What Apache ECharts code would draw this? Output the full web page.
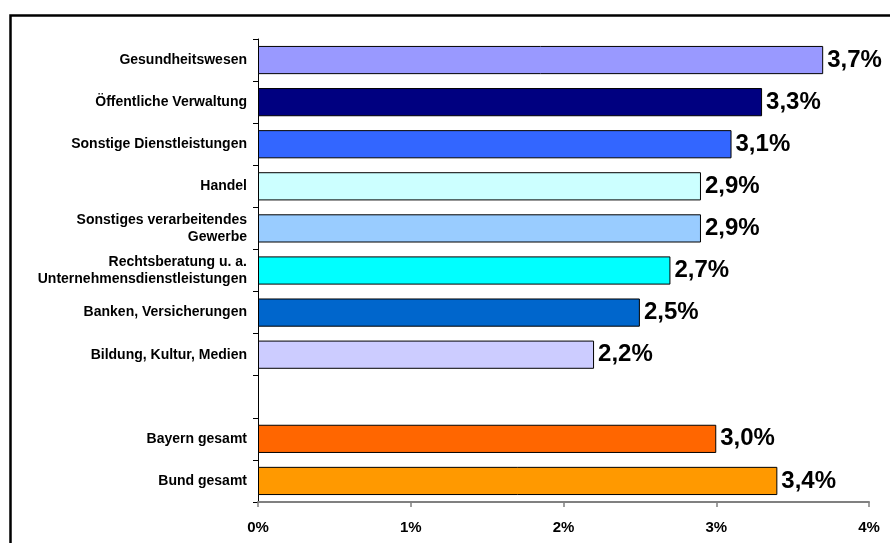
<!DOCTYPE html>
<html>
<head>
<meta charset="utf-8">
<script src="https://cdn.jsdelivr.net/npm/echarts@6/dist/echarts.min.js"></script>
<style>
  html, body { margin: 0; padding: 0; background: #fff; }
  #chart { width: 890px; height: 543px; }
</style>
</head>
<body>
<div id="chart"></div>
<script>
// Branchen, von oben nach unten (leerer Eintrag = Abstand)
const categories = [
  'Gesundheitswesen',
  'Öffentliche Verwaltung',
  'Sonstige Dienstleistungen',
  'Handel',
  'Sonstiges verarbeitendes\nGewerbe',
  'Rechtsberatung u. a.\nUnternehmensdienstleistungen',
  'Banken, Versicherungen',
  'Bildung, Kultur, Medien',
  '',
  'Bayern gesamt',
  'Bund gesamt'
];
const values = [3.7, 3.3, 3.1, 2.9, 2.9, 2.7, 2.5, 2.2, null, 3.0, 3.4];
const barColors = ['#9999FF', '#000080', '#3366FF', '#CCFFFF', '#99CCFF', '#00FFFF', '#0066CC', '#CCCCFF', '#ffffff', '#FF6600', '#FF9900'];
const xTicks = [0, 1, 2, 3, 4];

const font = 'Liberation Sans, Arial, sans-serif';

const chart = echarts.init(document.getElementById('chart'));
chart.setOption({
  animation: false,
  backgroundColor: '#fff',
  grid: { left: 258, right: 21, top: 39, bottom: 41, containLabel: false },
  graphic: [{
    type: 'rect',
    shape: { x: 10.5, y: 15.5, width: 1000, height: 1000 },
    style: { fill: 'none', stroke: '#000', lineWidth: 2.5 },
    silent: true
  }],
  xAxis: {
    type: 'value',
    min: xTicks[0],
    max: xTicks[xTicks.length - 1],
    interval: 1,
    splitLine: { show: false },
    axisLine: { show: true, lineStyle: { color: '#808080', width: 2 } },
    axisTick: { show: true, length: 5, lineStyle: { color: '#808080', width: 1.5 } },
    axisLabel: {
      formatter: '{value}%',
      color: '#000',
      fontFamily: font,
      fontWeight: 'bold',
      fontSize: 15,
      margin: 18
    }
  },
  yAxis: {
    type: 'category',
    data: categories,
    inverse: true,
    axisLine: { show: true, lineStyle: { color: '#000', width: 1 } },
    axisTick: { show: true, length: 5, lineStyle: { color: '#000' } },
    axisLabel: {
      color: '#000',
      fontFamily: font,
      fontWeight: 'bold',
      fontSize: 14,
      lineHeight: 17,
      margin: 11,
      align: 'right'
    }
  },
  series: [{
    type: 'bar',
    data: values.map((v, i) => ({ value: v, itemStyle: { color: barColors[i] } })),
    barCategoryGap: '33%',
    itemStyle: { borderColor: '#000', borderWidth: 1 },
    label: {
      show: true,
      position: 'right',
      distance: 4,
      color: '#000',
      fontFamily: font,
      fontWeight: 'bold',
      fontSize: 24,
      formatter: p => p.value == null ? '' : p.value.toFixed(1).replace('.', ',') + '%'
    }
  }]
});
</script>
</body>
</html>
